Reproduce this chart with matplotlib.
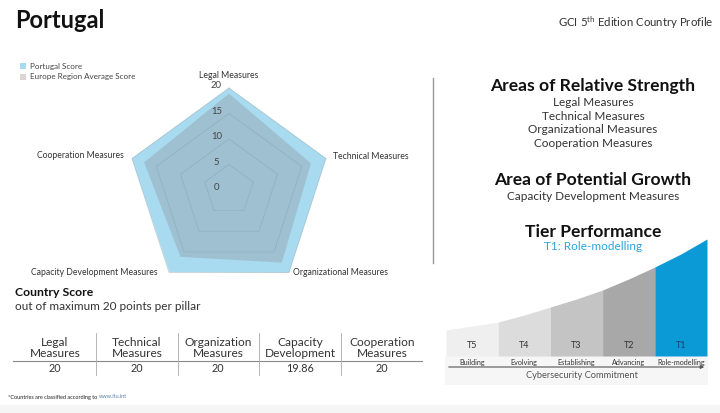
import numpy as np
import matplotlib.pyplot as plt
from matplotlib.patches import Rectangle

plt.rcParams['font.family'] = ['Lato', 'DejaVu Sans']
plt.rcParams['mathtext.fontset'] = 'custom'
plt.rcParams['mathtext.rm'] = 'Lato'

# data
pillars = ["Legal Measures", "Technical Measures", "Organizational Measures",
           "Capacity Development Measures", "Cooperation Measures"]
table_heads = ["Legal\nMeasures", "Technical\nMeasures", "Organization\nMeasures",
               "Capacity\nDevelopment", "Cooperation\nMeasures"]
portugal = [20, 20, 20, 19.86, 20]
europe_avg = [18.9, 16.9, 17.6, 16.2, 17.5]
radial_ticks = [0, 5, 10, 15, 20]

strengths = ["Legal Measures", "Technical Measures", "Organizational Measures", "Cooperation Measures"]
growth = ["Capacity Development Measures"]

tiers = ["T5", "T4", "T3", "T2", "T1"]
tier_names = ["Building", "Evolving", "Establishing", "Advancing", "Role-modelling"]
tier_top = [26, 30, 34, 41, 49, 57, 66, 77, 89, 102, 117]
tier_colors = ["#efefef", "#dcdcdc", "#c4c4c4", "#a8a8a8", "#0b9ad6"]

fig = plt.figure(figsize=(7.2, 4.13), dpi=100)
bg = fig.add_axes([0, 0, 1, 1])
bg.set_xlim(0, 720)
bg.set_ylim(413, 0)
bg.axis('off')

# header
bg.text(15, 21, "Portugal", fontsize=17, fontweight='bold', color='#111', va='center')
bg.text(714, 23, "GCI 5$^{\\mathrm{th}}$ Edition Country Profile", fontsize=8.2,
        color='#333', ha='right', va='center')
bg.add_patch(Rectangle((0, 405), 720, 8, color='#f5f5f5', lw=0, zorder=0))

# legend
bg.add_patch(Rectangle((20, 63), 6, 6, color='#a8daf0', lw=0))
bg.add_patch(Rectangle((20, 74), 6, 6, color='#ddd5d5', lw=0))
bg.text(30, 66, "Portugal Score", fontsize=5.8, color='#444', va='center')
bg.text(30, 77, "Europe Region Average Score", fontsize=5.8, color='#444', va='center')

# radar chart
ax = fig.add_axes([(229 - 120) / 720, (413 - 190 - 120) / 413, 240 / 720, 240 / 413])
lim = 120 / 5.1
ax.set_xlim(-lim, lim)
ax.set_ylim(-lim, lim)
ax.axis('off')

ang = np.deg2rad(90 - 72 * np.arange(len(pillars)))
ang_c = np.append(ang, ang[0])

def close(v):
    v = np.asarray(v, dtype=float)
    return np.append(v, v[0])

pv = close(portugal)
ev = close(europe_avg)
ax.fill(pv * np.cos(ang_c), pv * np.sin(ang_c), color='#a8daf0', lw=0, zorder=1)
ax.fill(ev * np.cos(ang_c), ev * np.sin(ang_c), color='#8c9296', alpha=0.35, lw=0, zorder=2)
for t in radial_ticks[1:]:
    ax.plot(t * np.cos(ang_c), t * np.sin(ang_c), color='#8aa3ad', lw=0.6, alpha=0.5, zorder=3)
for t in radial_ticks:
    ax.annotate(str(t), (0, t), xytext=(-9, 1.5), textcoords='offset points',
                fontsize=6.8, color='#444', ha='center', va='center')

offsets = [((0, 9), 'center'), ((5, 1.5), 'left'), ((3, 0), 'left'),
           ((-8, 0), 'right'), ((-6, 2), 'right')]
for name, a, (off, ha) in zip(pillars, ang, offsets):
    ax.annotate(name, (20 * np.cos(a), 20 * np.sin(a)), xytext=off,
                textcoords='offset points', fontsize=6.2, color='#333',
                ha=ha, va='center', annotation_clip=False)

# country score table
bg.text(15, 293, "Country Score", fontsize=8.8, fontweight='bold', color='#111', va='center')
bg.text(15, 306, "out of maximum 20 points per pillar", fontsize=8.5, color='#333', va='center')
col_x = [55, 137, 218, 300, 382]
bg.plot([13, 422], [361, 361], color='#888', lw=0.8)
for i, (h, v) in enumerate(zip(table_heads, portugal)):
    bg.text(col_x[i], 348, h, fontsize=8.6, color='#333', ha='center', va='center',
            linespacing=0.95)
    bg.text(col_x[i], 369, '{:g}'.format(v), fontsize=7.8, color='#333', ha='center', va='center')
    if i > 0:
        sx = (col_x[i - 1] + col_x[i]) / 2
        bg.plot([sx, sx], [333, 375], color='#aaa', lw=0.6)
note = bg.text(8, 397, "*Countries are classified according to ", fontsize=4,
               color='#222', va='center')
bg.annotate("www.itu.int", xy=(1, 0.5), xycoords=note, fontsize=4, color='#5b7fa3',
            va='center', ha='left')

# divider
bg.plot([433, 433], [78, 263], color='#999', lw=1)

# right side text
bg.text(593, 86, "Areas of Relative Strength", fontsize=12.6, fontweight='bold',
        color='#111', ha='center', va='center')
for i, s in enumerate(strengths):
    bg.text(593, 103 + 13.4 * i, s, fontsize=8.5, color='#333', ha='center', va='center')
bg.text(593, 180, "Area of Potential Growth", fontsize=12.6, fontweight='bold',
        color='#111', ha='center', va='center')
for i, s in enumerate(growth):
    bg.text(593, 196 + 13.4 * i, s, fontsize=8.5, color='#333', ha='center', va='center')
bg.text(593, 232, "Tier Performance", fontsize=12.6, fontweight='bold',
        color='#111', ha='center', va='center')
bg.text(593, 247, "T1: Role-modelling", fontsize=8.5, color='#2aa6de', ha='center', va='center')

# tier chart
bg.add_patch(Rectangle((445, 356), 263, 29, color='#f6f6f6', lw=0, zorder=0))
at = fig.add_axes([446 / 720, (413 - 356) / 413, 261 / 720, 120 / 413])
at.set_xlim(0, 5)
at.set_ylim(0, 120)
at.axis('off')
xs = np.linspace(0, 5, len(tier_top))
for i in range(len(tiers)):
    at.fill_between(xs[2 * i:2 * i + 3], tier_top[2 * i:2 * i + 3], color=tier_colors[i], lw=0)
    at.text(i + 0.5, 10, tiers[i], fontsize=6.5, ha='center', va='center',
            color='#1d3f66' if i == 4 else '#333')
    at.text(i + 0.5, -6, tier_names[i], fontsize=5.2, ha='center', va='center', color='#333')
at.annotate("", xy=(5, -11), xytext=(0, -11), annotation_clip=False,
            arrowprops=dict(arrowstyle='-|>', color='#555', lw=0.8, mutation_scale=5))
at.text(2.6, -20, "Cybersecurity Commitment", fontsize=6.7, ha='center', va='center',
        color='#555', clip_on=False)

fig.savefig("out.png", dpi=100)
